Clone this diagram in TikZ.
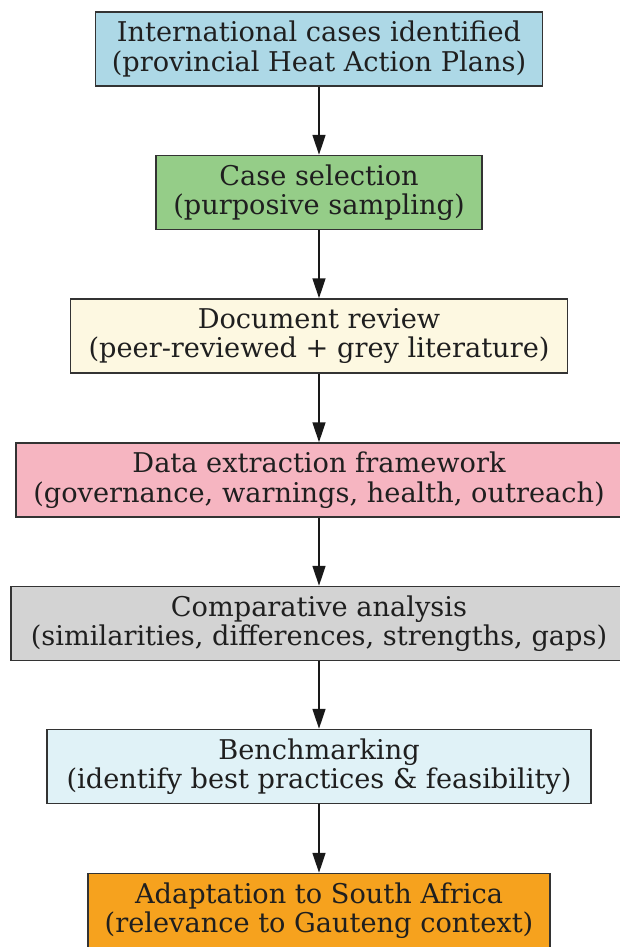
\documentclass[tikz,border=0pt]{standalone}
\usepackage{fontspec}
\setmainfont{DejaVu Serif}
\usetikzlibrary{arrows.meta}
\definecolor{fillA}{HTML}{ADD8E6}
\definecolor{fillB}{HTML}{95CD88}
\definecolor{fillC}{HTML}{FDF8E1}
\definecolor{fillD}{HTML}{F6B5C1}
\definecolor{fillE}{HTML}{D3D3D3}
\definecolor{fillF}{HTML}{E0F2F7}
\definecolor{fillG}{HTML}{F6A21E}
\definecolor{edge}{HTML}{333333}
\begin{document}
\begin{tikzpicture}[x=1pt,y=-1pt,
  stage/.style={draw=edge, line width=1.5pt, minimum height=74pt, align=center,
    inner sep=0pt, font=\fontsize{27.2}{29.5}\selectfont, text=black!88},
  flow/.style={draw=black!90, line width=1.5pt, -{Triangle[length=20pt,width=13pt]}}]
\useasboundingbox (0,0) rectangle (619,947);
\fill[white] (0,0) rectangle (619,947);
% process stages, top to bottom
\node[stage, fill=fillA, minimum width=447pt] (s1) at (319,49)
  {International cases identified\\(provincial Heat Action Plans)};
\node[stage, fill=fillB, minimum width=326pt] (s2) at (319,192.5)
  {Case selection\\(purposive sampling)};
\node[stage, fill=fillC, minimum width=497pt] (s3) at (319,336)
  {Document review\\(peer-reviewed + grey literature)};
\node[stage, fill=fillD, minimum width=606pt] (s4) at (319,480)
  {Data extraction framework\\(governance, warnings, health, outreach)};
\node[stage, fill=fillE, minimum width=616pt] (s5) at (319,623.5)
  {Comparative analysis\\(similarities, differences, strengths, gaps)};
\node[stage, fill=fillF, minimum width=544pt] (s6) at (319,766.5)
  {Benchmarking\\(identify best practices \& feasibility)};
\node[stage, fill=fillG, minimum width=462pt] (s7) at (319,910.5)
  {Adaptation to South Africa\\(relevance to Gauteng context)};
% connectors
\draw[flow] (s1) -- (s2);
\draw[flow] (s2) -- (s3);
\draw[flow] (s3) -- (s4);
\draw[flow] (s4) -- (s5);
\draw[flow] (s5) -- (s6);
\draw[flow] (s6) -- (s7);
\end{tikzpicture}
\end{document}
